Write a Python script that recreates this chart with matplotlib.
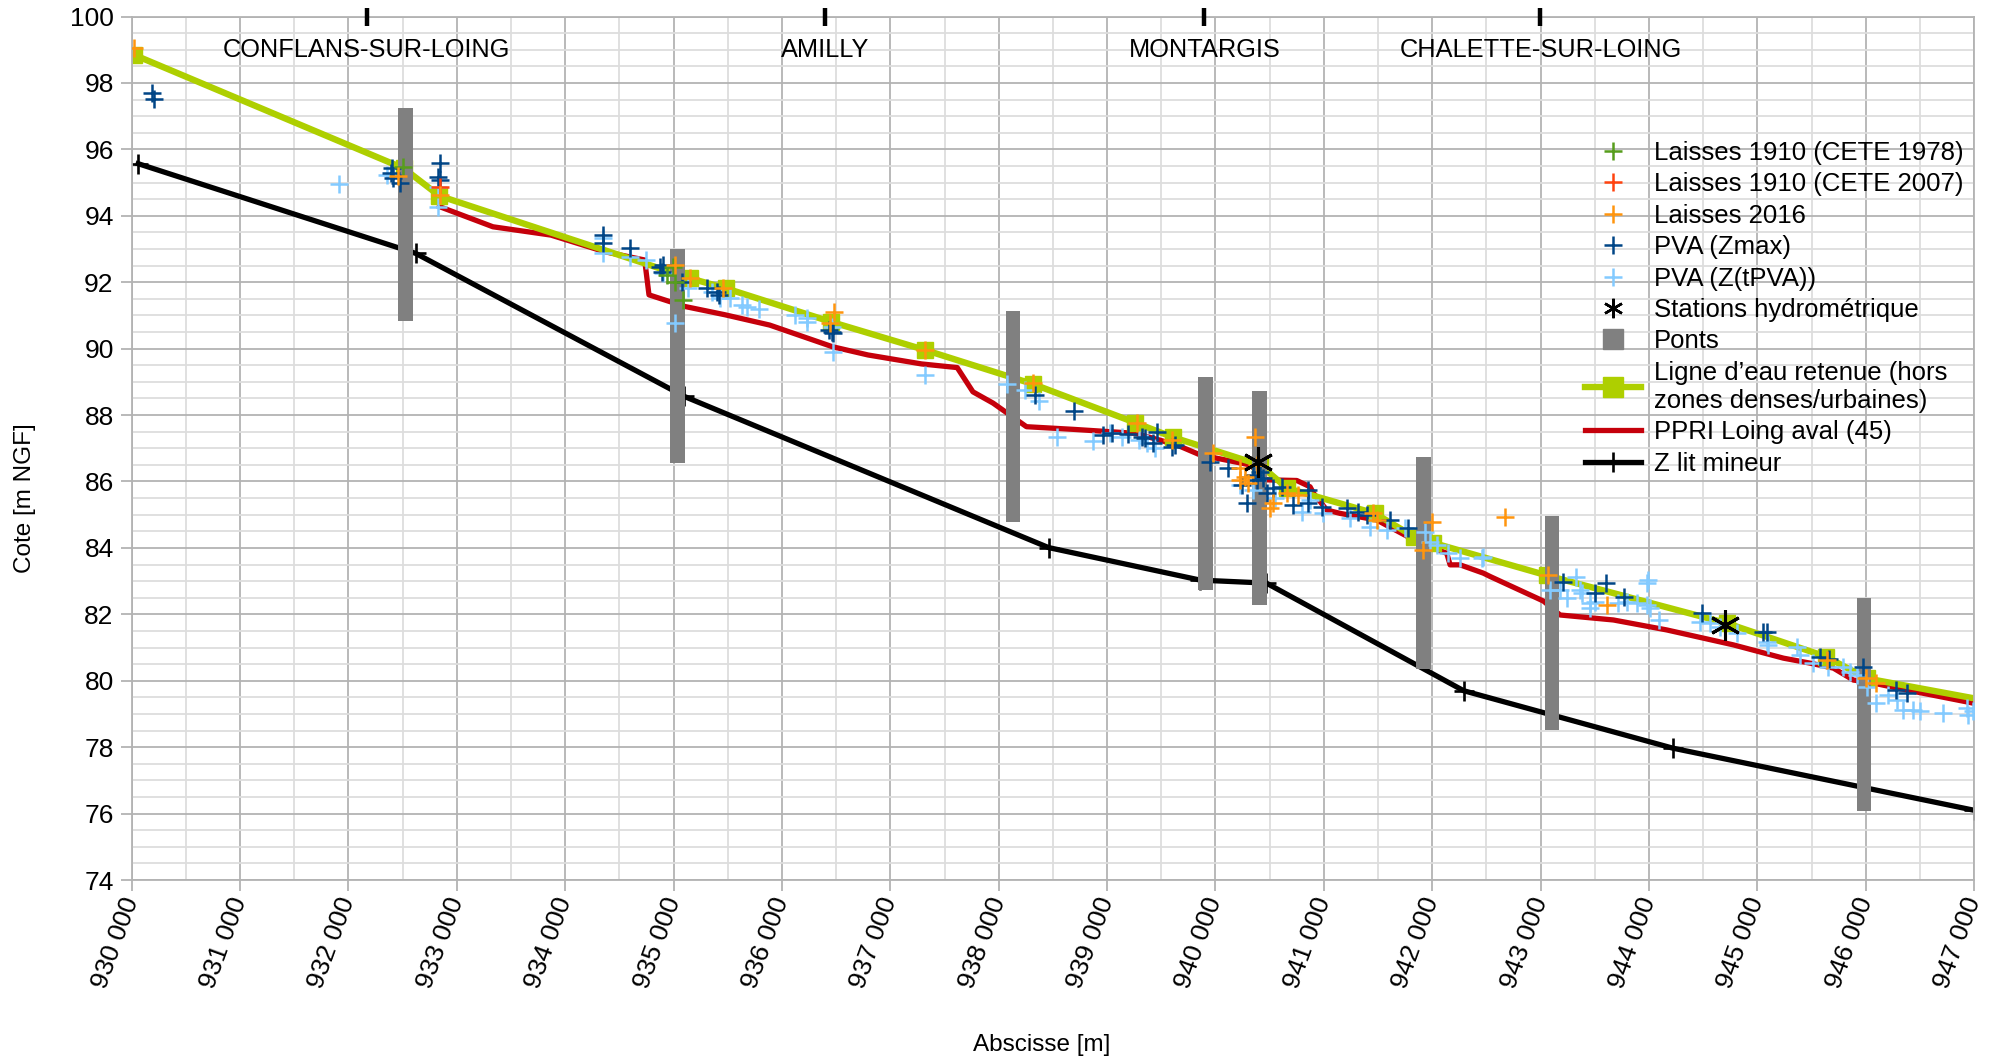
import matplotlib
matplotlib.use("Agg")
import matplotlib.pyplot as plt
from matplotlib.lines import Line2D
from matplotlib.ticker import MultipleLocator, FuncFormatter

plt.rcParams['font.family'] = ['Liberation Sans', 'DejaVu Sans']

# --- Communes along the reach ---
town_names = ["CONFLANS-SUR-LOING", "AMILLY", "MONTARGIS", "CHALETTE-SUR-LOING"]
town_x = [932170, 936395, 939898, 942999]

# --- Riverbed profile (Z lit mineur) ---
bed_x = [930060, 932620, 935100, 938460, 939860, 940470, 942290, 944220, 947000]
bed_z = [95.57, 92.87, 88.56, 84.01, 83.03, 82.94, 79.70, 77.97, 76.10]

# --- Retained water line ---
wl_x = [930020, 932510, 932840, 935150, 935480, 936450, 937320, 938320, 939260,
        939610, 940410, 940660, 941470, 941830, 942010, 943060, 944720, 945630,
        946010, 947000]
wl_z = [98.85, 95.43, 94.60, 92.12, 91.82, 90.81, 89.96, 88.93, 87.77,
        87.33, 86.50, 85.80, 85.04, 84.34, 84.15, 83.17, 81.73, 80.73,
        80.07, 79.47]

# --- PPRI Loing aval (45) ---
ppri_x = [932838, 933333, 933868, 934363, 934733, 934773, 935104, 935475, 935887,
          936464, 936794, 937288, 937617, 937762, 937948, 938256, 938689, 939264,
          939643, 939859, 940320, 940473, 940750, 940873, 940904, 941027, 941150,
          941488, 941888, 942134, 942165, 942257, 942472, 942534, 943026, 943180,
          943672, 944164, 944779, 945241, 945487, 945702, 945886, 946010, 946379,
          947000]
ppri_z = [94.28, 93.67, 93.42, 92.92, 92.67, 91.62, 91.27, 91.02, 90.71,
          90.06, 89.81, 89.54, 89.43, 88.70, 88.36, 87.65, 87.57, 87.45,
          87.10, 86.80, 86.50, 86.05, 86.03, 85.84, 85.65, 85.14, 85.04,
          84.84, 84.14, 83.84, 83.49, 83.49, 83.24, 83.14, 82.40, 81.98,
          81.83, 81.53, 81.08, 80.68, 80.53, 80.38, 80.02, 79.97, 79.72,
          79.32]

# --- Bridges (deck extent) ---
bridge_x = [932526, 935036, 938132, 939909, 940407, 941920, 943104, 945983]
bridge_bottom = [90.83, 86.55, 84.79, 82.73, 82.28, 80.36, 78.52, 76.09]
bridge_top = [97.24, 92.99, 91.14, 89.16, 88.71, 86.75, 84.96, 82.50]

# --- Flood marks 1910 (CETE 1978) ---
cete78_x = [932506, 934937, 934998, 935013, 935090]
cete78_z = [95.48, 92.22, 92.47, 92.02, 91.47]

# --- Flood marks 1910 (CETE 2007) ---
cete07_x = [932845]
cete07_z = [94.88]

# --- Flood marks 2016 ---
l2016_x = [930017, 932454, 932845, 935013, 935152, 935459, 936476, 936444, 937320,
           938317, 939274, 939597, 939980, 940365, 940227, 940273, 940304, 940227,
           940381, 940534, 940504, 940658, 940765, 941457, 941488, 941996, 941918,
           942672, 943072, 943611, 945640, 945999, 946091]
l2016_z = [99.05, 95.20, 94.63, 92.52, 92.12, 91.82, 91.11, 90.76, 89.96,
           88.96, 87.75, 87.25, 86.85, 87.35, 86.40, 86.15, 85.95, 86.05,
           86.50, 85.34, 85.19, 85.65, 85.59, 85.04, 84.84, 84.79, 83.94,
           84.92, 83.19, 82.28, 80.63, 80.07, 79.92]

# --- Aerial photos, maximum level ---
zmax_x = [930185, 930206, 932399, 932390, 932414, 932476, 932845, 932829, 932845,
          934352, 934352, 934598, 934875, 934906, 934890, 935075, 935306, 935398,
          935422, 936459, 936474, 936437, 938335, 938695, 938966, 939043, 939196,
          939320, 939350, 939427, 939458, 939597, 939627, 939950, 940119, 940289,
          940350, 940411, 940243, 940380, 940440, 940473, 940534, 940612, 940719,
          940857, 940857, 940981, 941211, 941318, 941396, 941611, 941780, 943210,
          943503, 943604, 943770, 944487, 945056, 945087, 945582, 945665, 945979,
          946280, 946384]
zmax_z = [97.69, 97.51, 95.43, 95.28, 95.13, 95.00, 95.58, 95.18, 95.08,
          93.42, 93.17, 93.02, 92.47, 92.52, 92.32, 92.02, 91.82, 91.72,
          91.62, 90.51, 90.46, 90.56, 88.61, 88.13, 87.40, 87.45, 87.42,
          87.35, 87.30, 87.15, 87.50, 87.05, 87.10, 86.60, 86.40, 85.34,
          86.20, 86.30, 85.90, 86.05, 86.10, 85.65, 85.80, 85.84, 85.29,
          85.75, 85.34, 85.24, 85.19, 85.09, 84.99, 84.84, 84.59, 82.98,
          82.65, 82.94, 82.53, 82.03, 81.48, 81.48, 80.73, 80.65, 80.42,
          79.72, 79.62]

# --- Aerial photos, level at shooting time ---
ztpva_x = [931913, 932353, 932829, 932829, 934352, 934352, 934598, 934746, 934906,
           935136, 935013, 935352, 935429, 935521, 935629, 935675, 935791, 936121,
           936229, 936229, 936459, 936474, 937320, 938074, 938243, 938375, 938536,
           938873, 939030, 939138, 939291, 939368, 939445, 940227, 940350, 940550,
           940796, 940873, 940996, 941242, 941427, 941581, 941750, 941934, 941980,
           942042, 942149, 942257, 942457, 942472, 943087, 943180, 943247, 943328,
           943365, 943380, 943457, 943503, 943457, 943718, 943795, 943888, 943980,
           944010, 944096, 943980, 943995, 944471, 944564, 944656, 944810, 945087,
           945102, 945364, 945395, 945518, 945656, 945794, 945856, 945918, 946010,
           946096, 946209, 946287, 946348, 946440, 946502, 946717, 946932, 946948,
           946994]
ztpva_z = [94.96, 95.23, 94.88, 94.28, 93.32, 92.87, 92.77, 92.67, 92.27,
           91.82, 90.76, 91.72, 91.52, 91.52, 91.32, 91.25, 91.19, 91.01,
           90.92, 90.81, 90.66, 89.91, 89.21, 88.94, 88.76, 88.43, 87.35,
           87.23, 87.47, 87.35, 87.25, 87.15, 87.00, 85.90, 85.75, 85.50,
           85.09, 85.44, 85.04, 84.89, 84.64, 84.54, 84.59, 84.49, 84.19,
           84.09, 83.84, 83.69, 83.69, 83.72, 82.73, 82.73, 82.48, 83.13,
           82.73, 82.63, 82.33, 82.38, 82.18, 82.33, 82.38, 82.33, 82.28,
           82.18, 81.83, 82.94, 83.02, 81.78, 81.73, 81.63, 81.43, 81.18,
           81.08, 81.03, 80.78, 80.53, 80.42, 80.42, 80.27, 80.17, 79.82,
           79.32, 79.57, 79.42, 79.12, 79.12, 79.10, 79.04, 79.17, 78.97,
           79.10]

# --- Gauging stations ---
station_x = [940396, 944706]
station_z = [86.60, 81.68]

C_GREEN = "#579d1c"
C_RED_OR = "#ff420e"
C_ORANGE = "#ff950e"
C_DBLUE = "#004586"
C_LBLUE = "#83caff"
C_GRAY = "#808080"
C_YG = "#aecf00"
C_RED = "#c5000b"

fig = plt.figure(figsize=(20.05, 10.58), dpi=100)
ax = fig.add_axes([0.06569, 0.16824, 0.9189, 0.8161])

ax.set_xlim(930000, 947000)
ax.set_ylim(74, 100)

# grid
ax.set_axisbelow(True)
ax.xaxis.set_major_locator(MultipleLocator(1000))
ax.xaxis.set_minor_locator(MultipleLocator(500))
ax.yaxis.set_major_locator(MultipleLocator(2))
ax.yaxis.set_minor_locator(MultipleLocator(0.5))
ax.grid(which='major', color='#b3b3b3', linewidth=1.3)
ax.grid(which='minor', color='#dddddd', linewidth=1.3)
for s in ax.spines.values():
    s.set_color('#b3b3b3')
    s.set_linewidth(1.3)
ax.tick_params(which='minor', length=0)
ax.tick_params(which='major', color='#b3b3b3', width=1.3, length=8,
               labelsize=19, pad=5)
ax.xaxis.set_major_formatter(FuncFormatter(lambda v, p: f"{int(v):,}".replace(",", " ")))
for lbl in ax.get_xticklabels():
    lbl.set_rotation(70)
    lbl.set_rotation_mode('anchor')
    lbl.set_ha('right')
    lbl.set_va('center')

ax.set_xlabel("Abscisse [m]", fontsize=17.5)
ax.set_ylabel("Cote [m NGF]", fontsize=17.5)
ax.xaxis.set_label_coords(0.494, -0.178)
ax.yaxis.set_label_coords(-0.052, 0.442)

# lines
LW_BED, LW_PPRI, LW_WL = 3.8, 3.8, 4.6
ax.plot(bed_x, bed_z, color='black', lw=LW_BED, marker='+', ms=15, mew=1.9, zorder=2)
ax.plot(ppri_x, ppri_z, color=C_RED, lw=LW_PPRI, zorder=2)
ax.plot(wl_x, wl_z, color=C_YG, lw=LW_WL, marker='s', ms=12,
        markevery=list(range(len(wl_x) - 1)), zorder=2.5)

# bridges
heights = [t - b for t, b in zip(bridge_top, bridge_bottom)]
ax.bar(bridge_x, heights, bottom=bridge_bottom, width=135, color=C_GRAY, zorder=3)

# flood marks
pk = dict(marker='+', linestyle='none', ms=13, mew=1.8)
ax.plot(ztpva_x, ztpva_z, color=C_LBLUE, zorder=4, **pk)
ax.plot(zmax_x, zmax_z, color=C_DBLUE, zorder=4, **pk)
ax.plot(cete78_x, cete78_z, color=C_GREEN, zorder=4, **pk)
ax.plot(cete07_x, cete07_z, color=C_RED_OR, zorder=4, **pk)
ax.plot(l2016_x, l2016_z, color=C_ORANGE, zorder=4, **pk)
ax.plot(station_x, station_z, color='black', marker=(6, 2, 0), linestyle='none',
        ms=22, mew=2.2, zorder=5)

# towns
ax.plot(town_x, [100] * len(town_x), color='black', marker='|', linestyle='none',
        ms=13, mew=3.2, clip_on=False, zorder=6)
for name, tx in zip(town_names, town_x):
    ax.text(tx, 98.98, name, ha='center', va='center', fontsize=18.3)

handles = [
    Line2D([], [], color=C_GREEN, **pk),
    Line2D([], [], color=C_RED_OR, **pk),
    Line2D([], [], color=C_ORANGE, **pk),
    Line2D([], [], color=C_DBLUE, **pk),
    Line2D([], [], color=C_LBLUE, **pk),
    Line2D([], [], color='black', marker=(6, 2, 0), linestyle='none', ms=14, mew=1.8),
    Line2D([], [], color=C_GRAY, marker='s', linestyle='none', ms=14),
    Line2D([], [], color=C_YG, lw=LW_WL, marker='s', ms=14),
    Line2D([], [], color=C_RED, lw=LW_PPRI),
    Line2D([], [], color='black', lw=LW_BED, marker='+', ms=15, mew=1.9),
]
labels = ["Laisses 1910 (CETE 1978)", "Laisses 1910 (CETE 2007)", "Laisses 2016",
          "PVA (Zmax)", "PVA (Z(tPVA))", "Stations hydrométrique", "Ponts",
          "Ligne d\u2019eau retenue (hors\nzones denses/urbaines)",
          "PPRI Loing aval (45)", "Z lit mineur"]
leg = fig.legend(handles, labels, loc='upper left', bbox_to_anchor=(0.7905, 0.867),
                 frameon=False, fontsize=18.5, borderpad=0, handlelength=2.2,
                 handletextpad=0.47, labelspacing=0.29, borderaxespad=0)

fig.savefig("out.png", dpi=100)
